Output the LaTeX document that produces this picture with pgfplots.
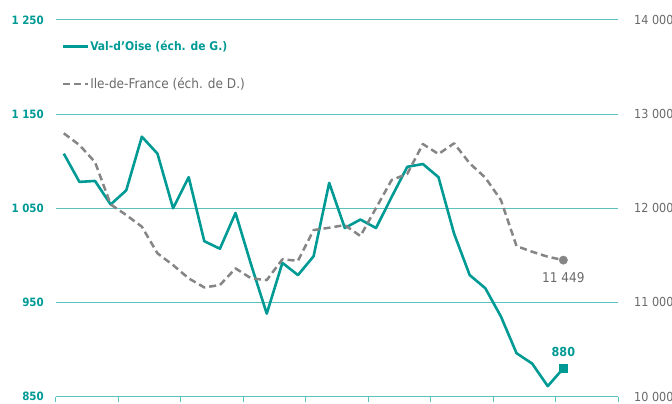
\documentclass[border=0pt]{standalone}
\usepackage{fontspec}
\setmainfont{DejaVu Sans Condensed}
\usepackage{pgfplots}
\usepackage{pgfplotstable}
\pgfplotsset{compat=1.18}
\definecolor{teal1}{HTML}{009A95}
\definecolor{gridc}{HTML}{5CC2BE}
\definecolor{idf}{HTML}{858585}
\definecolor{rlab}{HTML}{6A6A6A}

\pgfplotstableread{
i val idf
0 1108 12796
1 1078 12672
2 1079 12490
3 1054 12041
4 1069 11928
5 1126 11804
6 1108 11521
7 1050 11396
8 1083 11255
9 1015 11159
10 1007 11184
11 1045 11361
12 990 11255
13 938 11237
14 992 11457
15 979 11442
16 999 11768
17 1077 11793
18 1029 11821
19 1038 11705
20 1029 12002
21 1062 12300
22 1094 12365
23 1097 12682
24 1083 12576
25 1023 12690
26 979 12477
27 965 12325
28 935 12087
29 896 11598
30 885 11538
31 861 11485
32 880 11449
}\data

\begin{document}
\begin{tikzpicture}[x=1bp,y=1bp]
\path[use as bounding box] (-56,-6.5) rectangle (616,396.5);
\begin{axis}[
  at={(0,0)}, anchor=south west,
  scale only axis, width=562bp, height=376.5bp,
  xmin=-0.5, xmax=35.5, ymin=850, ymax=1250,
  axis x line*=bottom, axis y line*=left,
  y axis line style={draw=none},
  x axis line style={draw=gridc, line width=1bp, -},
  xtick={-0.5,3.5,...,35.5}, xticklabels={},
  tick align=outside, major tick length=5bp,
  xtick style={draw=gridc, line width=1bp},
  ytick={850,950,1050,1150,1250},
  yticklabels={850,950,1 050,1 150,1 250},
  scaled y ticks=false,
  ytick style={draw=none},
  ymajorgrids, grid style={draw=gridc, line width=1bp},
  yticklabel style={text=teal1, font=\bfseries\fontsize{11.5}{12}\selectfont, inner sep=0pt, xshift=-7bp},
  clip=false,
]
\addplot[teal1, line width=2.6bp, line join=round] table[x=i, y=val] {\data};
\addplot[only marks, mark=square*, mark size=4.2bp, teal1] coordinates {(32,880)};
\node[anchor=base, text=teal1, font=\bfseries\fontsize{12.5}{13}\selectfont, yshift=11.5bp] at (axis cs:32,880) {880};
\end{axis}
\begin{axis}[
  at={(0,0)}, anchor=south west,
  scale only axis, width=562bp, height=376.5bp,
  xmin=-0.5, xmax=35.5, ymin=10000, ymax=14000,
  axis x line=none, axis y line*=right,
  y axis line style={draw=none},
  ytick={10000,11000,12000,13000,14000},
  yticklabels={10 000,11 000,12 000,13 000,14 000},
  scaled y ticks=false,
  ytick style={draw=none},
  yticklabel style={text=rlab, font=\fontsize{12.5}{13}\selectfont, inner sep=0pt, xshift=11bp},
  tick align=outside, major tick length=5bp,
  clip=false,
  legend style={at={(axis description cs:0,1)}, anchor=north west, xshift=6bp, yshift=-20bp,
    draw=none, fill=none, row sep=25bp, inner xsep=0pt, inner ysep=0pt,
    nodes={inner sep=0.5bp}},
  legend cell align=left,
  legend image code/.code={\draw[#1] (0bp,0bp) -- (25bp,0bp);},
]
\addlegendimage{teal1, line width=2.6bp}
\addlegendentry{\textcolor{teal1}{\bfseries\fontsize{12}{13}\selectfont Val-d'Oise (éch. de G.)}}
\addplot[idf, line width=2.5bp, dash pattern=on 7bp off 4bp, line join=round] table[x=i, y=idf] {\data};
\addlegendentry{\textcolor{rlab}{\fontsize{13.5}{14}\selectfont Ile-de-France (éch. de D.)}}
\addplot[only marks, mark=*, mark size=4.2bp, idf, forget plot] coordinates {(32,11449)};
\node[anchor=base, text=rlab, font=\fontsize{13.5}{14}\selectfont, yshift=-22bp] at (axis cs:32,11449) {11 449};
\end{axis}
\end{tikzpicture}
\end{document}
